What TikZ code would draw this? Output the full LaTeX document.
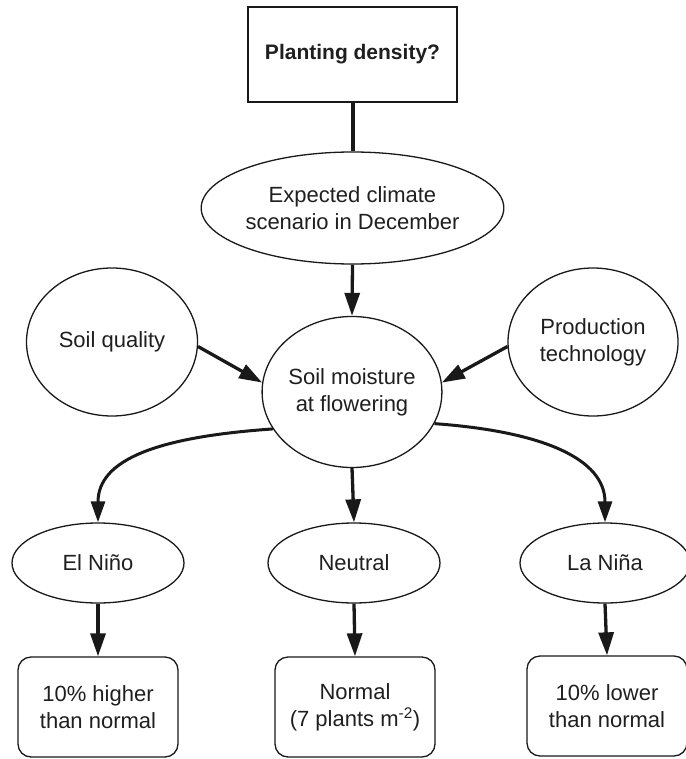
\documentclass[tikz,border=0pt]{standalone}
\usepackage{fontspec}
\setmainfont{Liberation Sans}
\usetikzlibrary{shapes.geometric,arrows.meta}

\begin{document}
\begin{tikzpicture}[x=1pt,y=-1pt,
  every node/.style={font=\fontsize{22}{27}\selectfont, text=black!88,
    align=center, inner sep=0pt},
  oval/.style={draw=black!90, ellipse, line width=1.3pt},
  box/.style={draw=black!90, rectangle, line width=1.3pt},
  rbox/.style={draw=black!90, rectangle, rounded corners=13pt, line width=1.3pt,
    minimum width=160pt, minimum height=100pt},
  link/.style={draw=black!90, line width=4pt},
  arr/.style={draw=black!90, line width=3.3pt,
    -{Triangle[length=23pt,width=15pt]}},
  carr/.style={draw=black!90, line width=3pt,
    -{Triangle[length=21pt,width=14pt]}}
]
\useasboundingbox (0,0) rectangle (685,759);

% question box and the climate forecast
\node[box, minimum width=209pt, minimum height=95pt,
  font=\fontsize{21}{26}\selectfont\bfseries] (q) at (352.5,54.5) {Planting density?};
\node[oval, minimum width=267pt, minimum height=112pt] (clim) at (352.5,208)
  {Expected climate\\scenario in December};

% middle row of factors
\node[oval, minimum width=171pt, minimum height=148pt] (sq) at (112,342) {Soil quality};
\node[oval, minimum width=171pt, minimum height=151pt] (sm) at (352,392)
  {Soil moisture\\at flowering};
\node[oval, minimum width=170pt, minimum height=148pt] (pt) at (593,342)
  {Production\\technology};

% ENSO phases
\node[oval, minimum width=172pt, minimum height=80pt] (en) at (98,563) {El Niño};
\node[oval, minimum width=172pt, minimum height=80pt] (ne) at (354,563) {Neutral};
\node[oval, minimum width=170pt, minimum height=80pt] (ln) at (605,563) {La Niña};

% recommended densities
\node[rbox] (r1) at (98,707) {10\% higher\\than normal};
\node[rbox] (r2) at (355,707) {Normal\\(7 plants m\textsuperscript{-2})};
\node[rbox] (r3) at (607,706) {10\% lower\\than normal};

% connectors
\draw[link] (q.south) -- (clim.north);
\draw[arr] (clim.south) -- (sm.north);
\draw[arr] (sq.-3) -- (sm.174);
\draw[arr] (pt.183) -- (sm.6);
\draw[carr] (sm.205) .. controls +(-115,8) and +(0,-63) .. (en.north);
\draw[carr] (sm.-21) .. controls +(110,8) and +(0,-63) .. (ln.north);
\draw[arr] (sm.south) -- (ne.north);
\draw[arr] (en.south) -- (r1.north);
\draw[arr] (ne.south) -- (r2.north);
\draw[arr] (ln.south) -- (r3.north);
\end{tikzpicture}
\end{document}
